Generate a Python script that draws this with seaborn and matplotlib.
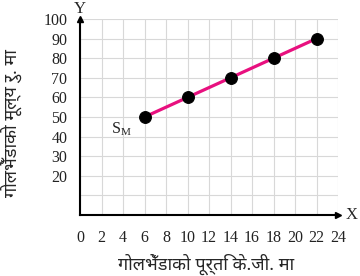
import matplotlib
matplotlib.use("Agg")
import matplotlib.pyplot as plt
import seaborn as sns
import pandas as pd

quantity = [6, 10, 14, 18, 22]
price = [50, 60, 70, 80, 90]
x_ticks = [0, 2, 4, 6, 8, 10, 12, 14, 16, 18, 20, 22, 24]
y_ticks = [0, 10, 20, 30, 40, 50, 60, 70, 80, 90, 100]
y_tick_labels = ["", "", "20", "30", "40", "50", "60", "70", "80", "90", "100"]
x_label = "गोलभेँडाको पूर्ति के.जी. मा"
y_label = "गोलभेँडाको मूल्य रु. मा"

sns.set_style("white")
plt.rcParams['font.family'] = ['Liberation Serif', 'DejaVu Serif']
deva = ['Noto Sans', 'DejaVu Sans']

df = pd.DataFrame({"q": quantity, "p": price})

fig = plt.figure(figsize=(3.6, 2.76), dpi=100)
ax = fig.add_axes([80/360, 1-215/276, 258/360, 196/276])

sns.lineplot(data=df, x="q", y="p", ax=ax, color="#e8107f", linewidth=2.3,
             marker="o", markersize=8.5, markerfacecolor="black",
             markeredgecolor="black", zorder=3)

ax.set_xlim(0, 24)
ax.set_ylim(0, 100)
ax.set_xticks(x_ticks)
ax.set_xticklabels([str(t) for t in x_ticks])
ax.set_yticks(y_ticks)
ax.set_yticklabels(y_tick_labels)
ax.grid(True, color="#d8d8d8", linewidth=0.8)
ax.set_axisbelow(True)
for s in ["top", "right"]:
    ax.spines[s].set_visible(False)
for s in ["left", "bottom"]:
    ax.spines[s].set_color("black")
    ax.spines[s].set_linewidth(1.5)
ax.tick_params(axis="both", direction="out", length=4, width=1, color="black",
               labelsize=11.5, labelcolor="#222222")
ax.tick_params(axis="y", pad=5)
ax.tick_params(axis="x", pad=7)

ax.set_xlabel(x_label, family=deva, fontsize=13)
ax.set_ylabel(y_label, family=deva, fontsize=13)
ax.xaxis.set_label_coords(0.49, -0.195)
ax.yaxis.set_label_coords(-0.225, 0.47)

# axis arrows
ax.plot([0], [1], marker="^", color="black", markersize=5, transform=ax.transAxes, clip_on=False)
ax.plot([1], [0], marker=">", color="black", markersize=5, transform=ax.transAxes, clip_on=False)
ax.text(0.0, 1.01, "Y", transform=ax.transAxes, ha="center", va="bottom", fontsize=12)
ax.text(1.03, 0.0, "X", transform=ax.transAxes, ha="left", va="center", fontsize=12)
ax.text(3.8, 44, r"S$_\mathregular{M}$", ha="center", va="center", fontsize=11.5)

fig.savefig("out.png", dpi=100)
